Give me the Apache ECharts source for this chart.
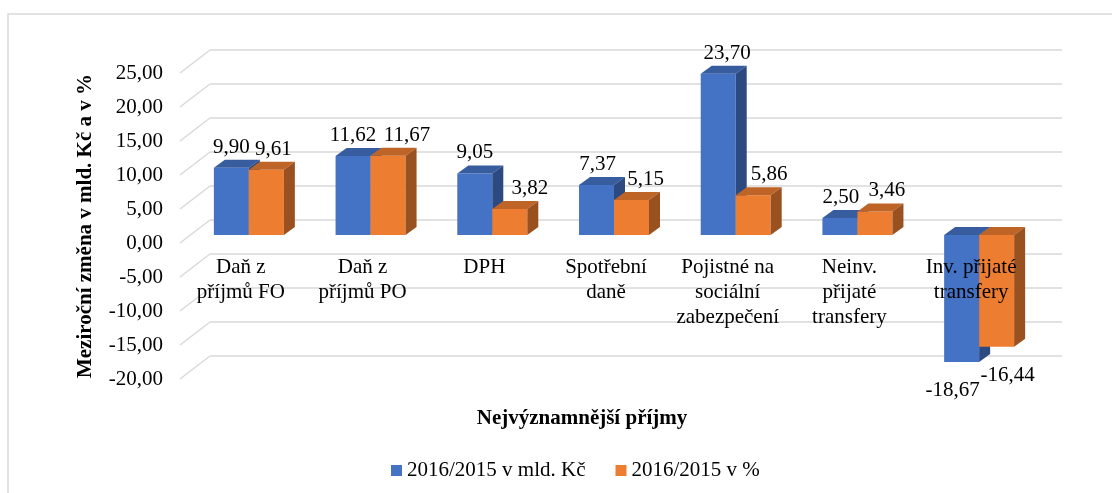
<!DOCTYPE html>
<html>
<head>
<meta charset="utf-8">
<script src="https://cdn.jsdelivr.net/npm/echarts@6/dist/echarts.min.js"></script>
<style>
html,body{margin:0;padding:0;background:#fff;}
#chart{width:1112px;height:493px;}
</style>
</head>
<body>
<div id="chart"></div>
<script>
// ---- data ----
const categories = ['Daň z\npříjmů FO', 'Daň z\npříjmů PO', 'DPH', 'Spotřební\ndaně', 'Pojistné na\nsociální\nzabezpečení', 'Neinv.\npřijaté\ntransfery', 'Inv. přijaté\ntransfery'];
const valuesKc = [9.90, 11.62, 9.05, 7.37, 23.70, 2.50, -18.67];
const valuesPct = [9.61, 11.67, 3.82, 5.15, 5.86, 3.46, -16.44];
const seriesNames = ['2016/2015 v mld. Kč', '2016/2015 v %'];
const yTicks = [-20, -15, -10, -5, 0, 5, 10, 15, 20, 25];
const yAxisTitle = 'Meziroční změna v mld. Kč a v %';
const xAxisTitle = 'Nejvýznamnější příjmy';

// ---- style ----
const FONT = "'Liberation Serif', 'Times New Roman', serif";
const FS = 21;
const BAR_W = 35;
const DEPTH_DX = 11, DEPTH_DY = -8;
const blueLabelDx = [0, 0, 0, 1, 9, 1, -9];
const orangeLabelDx = [7, 19, 20, 14, 16, 12, 11];
const GRID_COLOR = '#d9d9d9';
const fmt = v => v.toFixed(2).replace('.', ',');

function barData(values, dxs) {
  return values.map((v, i) => ({
    value: v,
    label: v >= 0
      ? { position: 'top', distance: 10, offset: [dxs[i], 0] }
      : { position: 'bottom', distance: 18, offset: [dxs[i], 0] }
  }));
}

function facesRenderer(side, topColor, sideColor) {
  return function (params, api) {
    const idx = api.value(0), v = api.value(1);
    const p0 = api.coord([idx, 0]), p1 = api.coord([idx, v]);
    const left = p0[0] + (side < 0 ? -BAR_W : 0);
    const right = left + BAR_W;
    const top = Math.min(p0[1], p1[1]), bottom = Math.max(p0[1], p1[1]);
    const dx = DEPTH_DX, dy = DEPTH_DY;
    return {
      type: 'group',
      children: [
        { type: 'polygon', shape: { points: [[left, top], [right, top], [right + dx, top + dy], [left + dx, top + dy]] }, style: { fill: topColor } },
        { type: 'polygon', shape: { points: [[right, top], [right + dx, top + dy], [right + dx, bottom + dy], [right, bottom]] }, style: { fill: sideColor } }
      ]
    };
  };
}

const chart = echarts.init(document.getElementById('chart'), null, { renderer: 'canvas' });
const yBase = { type: 'value', min: -20, max: 25, interval: 5 };

chart.setOption({
  backgroundColor: '#fff',
  animation: false,
  textStyle: { fontFamily: FONT },
  grid: [
    { left: 210, right: 50, top: 50, bottom: 137 },   // back wall
    { left: 180, right: 50, top: 73, bottom: 114 },   // front-left labels
    { left: 188, right: 72, top: 65, bottom: 122 },   // bars
    { left: 180, right: 80, top: 65, bottom: 258 }    // category labels
  ],
  xAxis: [
    { gridIndex: 0, type: 'value', min: 0, max: 1, show: false },
    { gridIndex: 1, type: 'value', min: 0, max: 1, show: false },
    { gridIndex: 2, type: 'category', data: categories, show: false },
    { gridIndex: 3, type: 'category', data: categories, z: 10,
      axisLine: { show: false }, axisTick: { show: false },
      axisLabel: { margin: 20, fontSize: FS, lineHeight: 25, color: '#000', fontFamily: FONT, interval: 0 } }
  ],
  yAxis: [
    Object.assign({ gridIndex: 0, axisLabel: { show: false }, axisLine: { show: false }, axisTick: { show: false },
      splitLine: { show: true, lineStyle: { color: GRID_COLOR, width: 1.5 } } }, yBase),
    Object.assign({ gridIndex: 1, axisLine: { show: false }, axisTick: { show: false }, splitLine: { show: false },
      axisLabel: { margin: 17, fontSize: FS, color: '#000', fontFamily: FONT, formatter: fmt },
      name: yAxisTitle, nameLocation: 'middle', nameGap: 84,
      nameTextStyle: { fontSize: FS, fontWeight: 'bold', color: '#000', fontFamily: FONT } }, yBase),
    Object.assign({ gridIndex: 2, show: false }, yBase),
    Object.assign({ gridIndex: 3, show: false }, yBase)
  ],
  legend: {
    data: seriesNames, left: 386, top: 455, icon: 'rect', itemWidth: 11, itemHeight: 11, itemGap: 30,
    textStyle: { fontSize: FS, color: '#000', fontFamily: FONT }
  },
  graphic: [
    { type: 'rect', shape: { x: 8, y: 14, width: 1200, height: 600 }, style: { fill: 'none', stroke: GRID_COLOR, lineWidth: 1.5 }, silent: true },
    { type: 'text', x: 582, y: 419, style: { text: xAxisTitle, font: 'bold ' + FS + 'px ' + FONT, fill: '#000', align: 'center', verticalAlign: 'middle' }, silent: true }
  ],
  series: [
    {
      name: 'diagonals', type: 'custom', xAxisIndex: 0, yAxisIndex: 0, silent: true, z: 1,
      data: yTicks.map(t => [0, t]),
      renderItem: function (params, api) {
        const p = api.coord([0, api.value(1)]);
        return { type: 'line', shape: { x1: p[0], y1: p[1], x2: p[0] - 30, y2: p[1] + 23 }, style: { stroke: GRID_COLOR, lineWidth: 1.5 } };
      }
    },
    {
      name: seriesNames[0], type: 'bar', xAxisIndex: 2, yAxisIndex: 2, barWidth: BAR_W, barGap: '0%', z: 2,
      itemStyle: { color: '#4472C4' },
      label: { show: true, fontSize: FS, color: '#000', fontFamily: FONT, formatter: p => fmt(p.value) },
      data: barData(valuesKc, blueLabelDx)
    },
    {
      name: 'blue3d', type: 'custom', xAxisIndex: 2, yAxisIndex: 2, silent: true, z: 3,
      data: valuesKc.map((v, i) => [i, v]),
      renderItem: facesRenderer(-1, '#375D9F', '#2C4A80')
    },
    {
      name: seriesNames[1], type: 'bar', xAxisIndex: 2, yAxisIndex: 2, barWidth: BAR_W, barGap: '0%', z: 4,
      itemStyle: { color: '#ED7D31' },
      label: { show: true, fontSize: FS, color: '#000', fontFamily: FONT, formatter: p => fmt(p.value) },
      data: barData(valuesPct, orangeLabelDx)
    },
    {
      name: 'orange3d', type: 'custom', xAxisIndex: 2, yAxisIndex: 2, silent: true, z: 5,
      data: valuesPct.map((v, i) => [i, v]),
      renderItem: facesRenderer(1, '#BE6427', '#9A5120')
    }
  ]
});
</script>
</body>
</html>
